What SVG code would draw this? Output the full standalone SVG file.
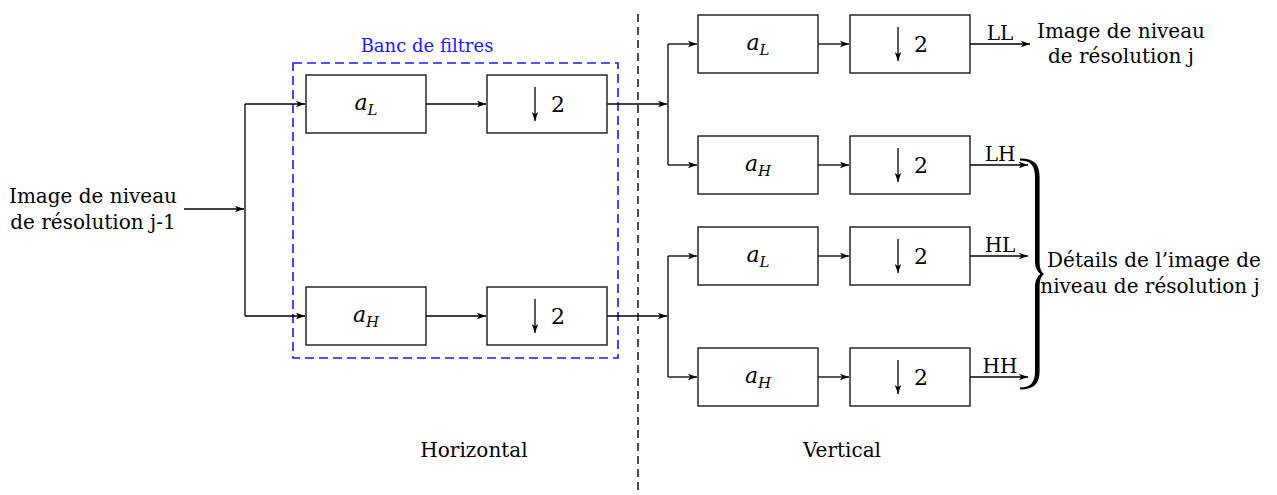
<svg xmlns="http://www.w3.org/2000/svg" width="1277" height="495" viewBox="0 0 1277 495">
<style>
text{font-family:'DejaVu Serif',serif;font-size:20px;fill:#000}
.box{fill:#fff;stroke:#1a1a1a;stroke-width:1.4}
.ln{fill:none;stroke:#000;stroke-width:1.3}
.ar{fill:none;stroke:#000;stroke-width:1.3;marker-end:url(#ah)}
.lbl{text-anchor:middle}
.it{font-style:italic;font-size:22px}
.sub{font-size:15px;font-style:italic}
.num{font-size:22px}
</style>
<defs>
<marker id="ah" markerUnits="userSpaceOnUse" markerWidth="10" markerHeight="8" refX="9" refY="4" orient="auto">
<path d="M0,0.8 L9,4 L0,7.2 L2.2,4 Z" fill="#000"/>
</marker>
<marker id="ahs" markerUnits="userSpaceOnUse" markerWidth="8" markerHeight="10" refX="4" refY="9" orient="0">
<path d="M0.8,0 L4,9 L7.2,0 L4,2.2 Z" fill="#000"/>
</marker>
</defs>

<g id="bank">
<rect x="293" y="63" width="325" height="295" fill="none" stroke="#1a1aff" stroke-width="1.6" stroke-dasharray="9,5"/>
<text x="427" y="52" class="lbl" style="fill:#1a1aff;font-size:18px">Banc de filtres</text>
</g>
<g id="separator">
<line x1="638" y1="14" x2="638" y2="495" stroke="#000" stroke-width="1.4" stroke-dasharray="8,5"/>
</g>

<g id="connectors">
<line class="ar" x1="184" y1="209" x2="244" y2="209"/>
<line class="ln" x1="245" y1="104" x2="245" y2="316"/>
<line class="ar" x1="245" y1="104" x2="305" y2="104"/>
<line class="ar" x1="245" y1="316" x2="305" y2="316"/>
<line class="ar" x1="426" y1="104" x2="486" y2="104"/>
<line class="ar" x1="426" y1="316" x2="486" y2="316"/>
<line class="ar" x1="607" y1="104" x2="667" y2="104"/>
<line class="ar" x1="607" y1="316" x2="667" y2="316"/>
<line class="ln" x1="668" y1="44" x2="668" y2="165"/>
<line class="ln" x1="668" y1="256" x2="668" y2="377"/>
<line class="ar" x1="668" y1="44" x2="697" y2="44"/>
<line class="ar" x1="668" y1="165" x2="697" y2="165"/>
<line class="ar" x1="668" y1="256" x2="697" y2="256"/>
<line class="ar" x1="668" y1="377" x2="697" y2="377"/>
<line class="ar" x1="818" y1="44" x2="849" y2="44"/>
<line class="ar" x1="818" y1="165" x2="849" y2="165"/>
<line class="ar" x1="818" y1="256" x2="849" y2="256"/>
<line class="ar" x1="818" y1="377" x2="849" y2="377"/>
<line class="ar" x1="970" y1="44" x2="1030" y2="44"/>
<line class="ar" x1="970" y1="165" x2="1028" y2="165"/>
<line class="ar" x1="970" y1="256" x2="1028" y2="256"/>
<line class="ar" x1="970" y1="377" x2="1028" y2="377"/>
</g>

<g id="h-aL"><rect class="box" x="306" y="75" width="120" height="58"/><text x="366" y="110" class="lbl"><tspan class="it">a</tspan><tspan class="sub" dy="5">L</tspan></text></g>
<g id="h-dL"><rect class="box" x="487" y="75" width="120" height="58"/><line class="ln" x1="535" y1="87" x2="535" y2="121" marker-end="url(#ahs)"/><text x="558" y="112" class="lbl num">2</text></g>
<g id="h-aH"><rect class="box" x="306" y="287" width="120" height="58"/><text x="366" y="322" class="lbl"><tspan class="it">a</tspan><tspan class="sub" dy="5">H</tspan></text></g>
<g id="h-dH"><rect class="box" x="487" y="287" width="120" height="58"/><line class="ln" x1="535" y1="299" x2="535" y2="333" marker-end="url(#ahs)"/><text x="558" y="324" class="lbl num">2</text></g>

<g id="v1-aL"><rect class="box" x="698" y="15" width="120" height="58"/><text x="758" y="50" class="lbl"><tspan class="it">a</tspan><tspan class="sub" dy="5">L</tspan></text></g>
<g id="v1-dL"><rect class="box" x="850" y="15" width="120" height="58"/><line class="ln" x1="898" y1="27" x2="898" y2="61" marker-end="url(#ahs)"/><text x="921" y="52" class="lbl num">2</text></g>
<g id="v1-aH"><rect class="box" x="698" y="136" width="120" height="58"/><text x="758" y="171" class="lbl"><tspan class="it">a</tspan><tspan class="sub" dy="5">H</tspan></text></g>
<g id="v1-dH"><rect class="box" x="850" y="136" width="120" height="58"/><line class="ln" x1="898" y1="148" x2="898" y2="182" marker-end="url(#ahs)"/><text x="921" y="173" class="lbl num">2</text></g>
<g id="v2-aL"><rect class="box" x="698" y="227" width="120" height="58"/><text x="758" y="262" class="lbl"><tspan class="it">a</tspan><tspan class="sub" dy="5">L</tspan></text></g>
<g id="v2-dL"><rect class="box" x="850" y="227" width="120" height="58"/><line class="ln" x1="898" y1="239" x2="898" y2="273" marker-end="url(#ahs)"/><text x="921" y="264" class="lbl num">2</text></g>
<g id="v2-aH"><rect class="box" x="698" y="348" width="120" height="58"/><text x="758" y="383" class="lbl"><tspan class="it">a</tspan><tspan class="sub" dy="5">H</tspan></text></g>
<g id="v2-dH"><rect class="box" x="850" y="348" width="120" height="58"/><line class="ln" x1="898" y1="360" x2="898" y2="394" marker-end="url(#ahs)"/><text x="921" y="385" class="lbl num">2</text></g>

<g id="input"><text x="93" y="203" class="lbl">Image de niveau</text><text x="93" y="229" class="lbl">de résolution j-1</text></g>
<g id="output-LL"><text x="1121" y="38" class="lbl">Image de niveau</text><text x="1121" y="63" class="lbl">de résolution j</text></g>
<g id="band-labels">
<text x="1000" y="40" class="lbl">LL</text>
<text x="1000" y="161" class="lbl">LH</text>
<text x="1000" y="252" class="lbl">HL</text>
<text x="1000" y="373" class="lbl">HH</text>
</g>
<g id="brace">
<path d="M1020,158.6 C1034,158.6 1039.6,164 1039.6,177 L1039.6,262 C1039.6,268 1041,272 1044,274 C1041,276 1039.6,280 1039.6,286 L1039.6,371 C1039.6,384 1034,389.4 1020,389.4 L1020,387.6 C1031,387.6 1035,382 1035,371 L1035,287 C1035,281 1037,276.5 1040.5,274 C1037,271.5 1035,267 1035,261 L1035,177 C1035,166 1031,160.4 1020,160.4 Z" fill="#000"/>
</g>
<g id="details"><text x="1154" y="267" class="lbl">Détails de l’image de</text><text x="1150" y="293" class="lbl">niveau de résolution j</text></g>
<g id="sections"><text x="474" y="457" class="lbl">Horizontal</text><text x="842" y="457" class="lbl">Vertical</text></g>
</svg>
